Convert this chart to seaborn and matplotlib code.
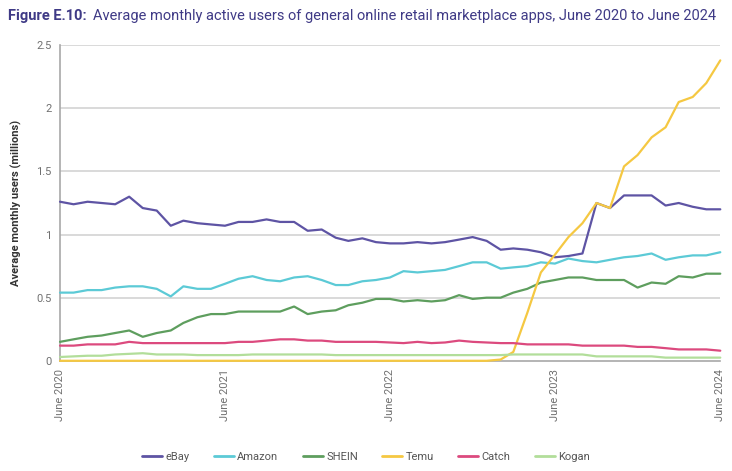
import pandas as pd
import numpy as np
import matplotlib.pyplot as plt
import seaborn as sns

# monthly data, June 2020 .. June 2024 (49 months)
months = pd.date_range('2020-06-01', '2024-06-01', freq='MS')

ebay = [1.26, 1.24, 1.26, 1.25, 1.24, 1.30, 1.21, 1.19, 1.07, 1.11, 1.09, 1.08, 1.07,
        1.10, 1.10, 1.12, 1.10, 1.10, 1.03, 1.04, 0.975, 0.95, 0.97, 0.94, 0.93,
        0.93, 0.94, 0.93, 0.94, 0.96, 0.98, 0.95, 0.88, 0.89, 0.88, 0.86, 0.82,
        0.83, 0.85, 1.25, 1.21, 1.31, 1.31, 1.31, 1.23, 1.25, 1.22, 1.20, 1.20]
amazon = [0.54, 0.54, 0.56, 0.56, 0.58, 0.59, 0.59, 0.57, 0.51, 0.59, 0.57, 0.57, 0.61,
          0.65, 0.67, 0.64, 0.63, 0.66, 0.67, 0.64, 0.60, 0.60, 0.63, 0.64, 0.66,
          0.71, 0.70, 0.71, 0.72, 0.75, 0.78, 0.78, 0.73, 0.74, 0.75, 0.78, 0.77,
          0.81, 0.79, 0.78, 0.80, 0.82, 0.83, 0.85, 0.80, 0.82, 0.835, 0.835, 0.86]
shein = [0.15, 0.17, 0.19, 0.20, 0.22, 0.24, 0.19, 0.22, 0.24, 0.30, 0.345, 0.37, 0.37,
         0.39, 0.39, 0.39, 0.39, 0.43, 0.37, 0.39, 0.40, 0.44, 0.46, 0.49, 0.49,
         0.47, 0.48, 0.47, 0.48, 0.52, 0.49, 0.50, 0.50, 0.54, 0.57, 0.62, 0.64,
         0.66, 0.66, 0.64, 0.64, 0.64, 0.58, 0.62, 0.61, 0.67, 0.66, 0.69, 0.69]
temu = [0.0, 0.0, 0.0, 0.0, 0.0, 0.0, 0.0, 0.0, 0.0, 0.0, 0.0, 0.0, 0.0,
        0.0, 0.0, 0.0, 0.0, 0.0, 0.0, 0.0, 0.0, 0.0, 0.0, 0.0, 0.0,
        0.0, 0.0, 0.0, 0.0, 0.0, 0.0, 0.0, 0.01, 0.07, 0.38, 0.70, 0.84,
        0.98, 1.09, 1.25, 1.21, 1.54, 1.63, 1.77, 1.85, 2.05, 2.09, 2.20, 2.38]
catch = [0.12, 0.12, 0.13, 0.13, 0.13, 0.15, 0.14, 0.14, 0.14, 0.14, 0.14, 0.14, 0.14,
         0.15, 0.15, 0.16, 0.17, 0.17, 0.16, 0.16, 0.15, 0.15, 0.15, 0.15, 0.145,
         0.14, 0.15, 0.14, 0.145, 0.16, 0.15, 0.145, 0.14, 0.14, 0.13, 0.13, 0.13,
         0.13, 0.12, 0.12, 0.12, 0.12, 0.11, 0.11, 0.10, 0.09, 0.09, 0.09, 0.08]
kogan = [0.03, 0.035, 0.04, 0.04, 0.05, 0.055, 0.06, 0.05, 0.05, 0.05, 0.045, 0.045, 0.045,
         0.045, 0.05, 0.05, 0.05, 0.05, 0.05, 0.05, 0.045, 0.045, 0.045, 0.045, 0.045,
         0.045, 0.045, 0.045, 0.045, 0.045, 0.045, 0.045, 0.045, 0.05, 0.05, 0.05, 0.05,
         0.05, 0.05, 0.035, 0.035, 0.035, 0.035, 0.035, 0.025, 0.025, 0.025, 0.025, 0.025]

apps = ['eBay', 'Amazon', 'SHEIN', 'Temu', 'Catch', 'Kogan']
series = [ebay, amazon, shein, temu, catch, kogan]
colors = {'eBay': '#5E54A4', 'Amazon': '#5CCAD6', 'SHEIN': '#5E9E5E',
          'Temu': '#F5C842', 'Catch': '#DC4A7E', 'Kogan': '#B2DE9A'}

tick_dates = pd.to_datetime(['2020-06-01', '2021-06-01', '2022-06-01', '2023-06-01', '2024-06-01'])
tick_labels = ['June 2020', 'June 2021', 'June 2022', 'June 2023', 'June 2024']

df = pd.concat([pd.DataFrame({'month': months, 'users': s, 'app': a})
                for a, s in zip(apps, series)], ignore_index=True)

sns.set_style('white')
plt.rcParams['font.family'] = ['Roboto', 'DejaVu Sans']

fig = plt.figure(figsize=(7.32, 4.71), dpi=100)
ax = fig.add_axes([0.082, 0.234, 0.902, 0.670])

for y in [0.5, 1, 1.5, 2, 2.5]:
    ax.axhline(y, color='#D0D0D0', lw=1.1, zorder=0)

sns.lineplot(data=df, x='month', y='users', hue='app', hue_order=apps,
             palette=colors, lw=1.6, ax=ax, legend=False, clip_on=False, zorder=3)

ax.set_xlim(months[0], months[-1])
ax.set_ylim(0, 2.5)
ax.set_yticks([0, 0.5, 1, 1.5, 2, 2.5])
ax.set_yticklabels(['0', '0.5', '1', '1.5', '2', '2.5'], fontsize=8, color='#707070')
ax.set_xticks(tick_dates)
ax.set_xticklabels(tick_labels, rotation=90, fontsize=8, color='#707070')
ax.tick_params(axis='both', length=0, pad=6)
ax.set_xlabel('')
ax.set_ylabel('Average monthly users (millions)', fontsize=8, fontweight='bold',
              color='#333333', labelpad=10)

for side in ['top', 'right']:
    ax.spines[side].set_visible(False)
for side in ['left', 'bottom']:
    ax.spines[side].set_color('#A8A8A8')
    ax.spines[side].set_linewidth(1.2)
    ax.spines[side].set_zorder(1)

handles = [plt.Line2D([], [], color=colors[a], lw=2) for a in apps]
fig.legend(handles, apps, loc='center', bbox_to_anchor=(0.5, 0.03), ncol=6,
           frameon=False, fontsize=8, handlelength=1.8, handletextpad=0.3,
           columnspacing=2.2, labelcolor='#555555')

# title in two parts: bold label then the description right after it
t1 = fig.text(0.011, 0.965, 'Figure E.10:', fontsize=10.5, fontweight='bold',
              color='#3F3A86', va='center')
fig.canvas.draw()
bb = t1.get_window_extent()
x2 = (bb.x1 + 6) / fig.bbox.width
fig.text(x2, 0.965, 'Average monthly active users of general online retail marketplace apps, June 2020 to June 2024',
         fontsize=10.5, color='#3F3A86', va='center')

fig.savefig('out.png', dpi=100)
